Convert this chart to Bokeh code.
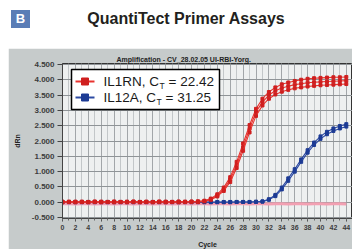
from bokeh.plotting import figure
from bokeh.models import Range1d, SingleIntervalTicker, FixedTicker, NumeralTickFormatter, Div, Spacer
from bokeh.layouts import column, row
from bokeh.core.properties import value
from bokeh.embed import file_html
from bokeh.resources import INLINE

# ---------------- data ----------------
cycles = list(range(0, 45))

il1rn_a = [0.02, 0.02, 0.01, 0.02, 0.01, 0.02, 0.02, 0.01, 0.02, 0.01, 0.02,
           0.02, 0.01, 0.02, 0.01, 0.02, 0.02, 0.01, 0.02, 0.02, 0.02, 0.03,
           0.05, 0.12, 0.26, 0.48, 0.82, 1.32, 1.92, 2.52, 3.05, 3.38, 3.60,
           3.75, 3.85, 3.91, 3.96, 4.00, 4.03, 4.05, 4.06, 4.07, 4.08, 4.08, 4.09]
il1rn_b = [0.01, 0.01, 0.02, 0.01, 0.01, 0.02, 0.01, 0.01, 0.02, 0.01, 0.01,
           0.02, 0.01, 0.01, 0.01, 0.02, 0.01, 0.01, 0.02, 0.01, 0.02, 0.02,
           0.04, 0.10, 0.22, 0.42, 0.74, 1.22, 1.80, 2.40, 2.95, 3.27, 3.50,
           3.64, 3.73, 3.79, 3.84, 3.87, 3.90, 3.92, 3.93, 3.94, 3.95, 3.96, 3.97]
il1rn_c = [0.00, 0.01, 0.00, 0.01, 0.00, 0.01, 0.00, 0.01, 0.00, 0.01, 0.00,
           0.01, 0.00, 0.01, 0.00, 0.01, 0.00, 0.01, 0.00, 0.01, 0.01, 0.01,
           0.03, 0.08, 0.19, 0.37, 0.66, 1.12, 1.68, 2.28, 2.82, 3.16, 3.38,
           3.52, 3.61, 3.67, 3.72, 3.75, 3.78, 3.80, 3.82, 3.83, 3.84, 3.85, 3.86]
il12a_a = [0.01, 0.00, 0.01, 0.00, 0.01, 0.00, 0.01, 0.00, 0.01, 0.00, 0.01,
           0.00, 0.01, 0.00, 0.01, 0.00, 0.01, 0.00, 0.01, 0.00, 0.01, 0.00,
           0.01, 0.00, 0.01, 0.00, 0.01, 0.01, 0.01, 0.01, 0.02, 0.03, 0.10,
           0.24, 0.48, 0.78, 1.08, 1.40, 1.70, 1.95, 2.15, 2.30, 2.41, 2.49, 2.55]
il12a_b = [0.00, 0.01, 0.00, 0.01, 0.00, 0.01, 0.00, 0.01, 0.00, 0.01, 0.00,
           0.01, 0.00, 0.01, 0.00, 0.01, 0.00, 0.01, 0.00, 0.01, 0.00, 0.01,
           0.00, 0.01, 0.00, 0.01, 0.00, 0.01, 0.01, 0.01, 0.01, 0.02, 0.08,
           0.20, 0.42, 0.70, 1.00, 1.32, 1.62, 1.87, 2.07, 2.22, 2.33, 2.41, 2.47]
ntc = [-0.05, -0.05, -0.06, -0.05, -0.05, -0.06, -0.05, -0.05, -0.06, -0.05,
       -0.05, -0.06, -0.05, -0.05, -0.06, -0.05, -0.05, -0.06, -0.05, -0.05,
       -0.06, -0.05, -0.05, -0.06, -0.05, -0.05, -0.06, -0.05, -0.05, -0.06,
       -0.05, -0.05, -0.06, -0.05, -0.05, -0.06, -0.05, -0.05, -0.06, -0.05,
       -0.05, -0.06, -0.05, -0.05, -0.06]

y_ticks = [-0.5, 0.0, 0.5, 1.0, 1.5, 2.0, 2.5, 3.0, 3.5, 4.0, 4.5]
legend_names = ["IL1RN, C", "IL12A, C"]
legend_ct = ["= 22.42", "= 31.25"]
panel_letter = "B"
header_title = "QuantiTect Primer Assays"
plot_title = "Amplification - CV_28.02.05 UI-RBI-Yorg."

RED_LINE, RED_MARK = "#e8332e", "#cf1f1f"
BLUE_LINE, BLUE_MARK = "#2c4aa3", "#1d3b94"
FONT = "Liberation Sans"

# ---------------- header ----------------
header_html = (
    '<div style="position:relative;width:352px;height:48px;background:#ffffff;'
    'font-family:\'Liberation Sans\',sans-serif;">'
    '<div style="position:absolute;left:11px;top:10px;width:19px;height:18px;'
    'background:#5a7db6;color:#ffffff;font-weight:bold;font-size:13px;'
    'line-height:18px;text-align:center;">' + panel_letter + '</div>'
    '<div style="position:absolute;left:66px;top:9px;width:240px;'
    'text-align:center;font-weight:bold;font-size:16px;line-height:20px;'
    'color:#231f20;white-space:nowrap;">' + header_title + '</div></div>'
)
h = Div(text=header_html, width=352, height=48, margin=0)

# ---------------- main plot ----------------
X0, X1 = 0.0, 44.96
Y0, Y1 = -0.53, 4.53
FW, FH = 290, 155
FL, FT = 62, 63  # frame left/top on page (for legend layout)

p = figure(frame_width=FW, frame_height=FH, x_range=Range1d(X0, X1), y_range=Range1d(Y0, Y1),
           toolbar_location=None, output_backend="svg",
           min_border_left=54, min_border_right=0, min_border_top=15,
           min_border_bottom=31, background_fill_color="#eef0f0",
           border_fill_color="#c6cbcb", outline_line_color="#333333")

p.title.text = plot_title
p.title.text_font = FONT
p.title.text_font_size = "7px"
p.title.text_font_style = "bold"
p.title.text_color = "#222222"
p.title.align = "left"
p.title.offset = 54
p.title.standoff = 2

p.xaxis.ticker = SingleIntervalTicker(interval=2, num_minor_ticks=2)
p.yaxis.ticker = FixedTicker(ticks=y_ticks)
p.yaxis.formatter = NumeralTickFormatter(format="0.000")
p.yaxis.axis_label = "dRn"
p.xaxis.axis_label = "Cycle"
for ax in (p.xaxis, p.yaxis):
    ax.major_label_text_font = FONT
    ax.major_label_text_font_style = "bold"
    ax.major_label_text_color = "#3c3c3c"
    ax.axis_label_text_font = FONT
    ax.axis_label_text_font_size = "7px"
    ax.axis_label_text_font_style = "bold"
    ax.axis_label_text_color = "#222222"
    ax.axis_line_color = "#444444"
    ax.major_tick_line_color = "#444444"
    ax.minor_tick_line_color = "#666666"
    ax.major_tick_in = 0
    ax.minor_tick_in = 0
    ax.axis_label_standoff = 8
p.yaxis.major_label_text_font_size = "8px"
p.xaxis.major_label_text_font_size = "7px"
p.yaxis.major_tick_out = 5
p.yaxis.minor_tick_out = 0
p.yaxis.major_label_standoff = 3
p.xaxis.major_tick_out = 3
p.xaxis.minor_tick_out = 2
p.xaxis.major_label_standoff = 3

p.xgrid.grid_line_color = "#a2a6a9"
p.xgrid.minor_grid_line_color = "#c3c7c9"
p.ygrid.grid_line_color = "#8f9497"

p.line(cycles, ntc, color="#f3a0b2", line_width=3)
for rep in (il12a_a, il12a_b):
    p.line(cycles, rep, color=BLUE_LINE, line_width=1.1)
    p.scatter(cycles, rep, marker="square", size=3, color=BLUE_MARK)
for rep in (il1rn_a, il1rn_b, il1rn_c):
    p.line(cycles, rep, color=RED_LINE, line_width=1.1)
    p.scatter(cycles, rep, marker="square", size=3, color=RED_MARK)

# ---------------- legend (layout in page pixels) ----------------
def px2x(px):
    return X0 + (px - FL) * (X1 - X0) / FW

def px2y(py):
    return Y1 - (py - FT) * (Y1 - Y0) / FH

p.quad(left=[px2x(71)], right=[px2x(219)], top=[px2y(69)], bottom=[px2y(109)],
       fill_color="white", line_color="black", line_width=1.5, level="overlay")
rows = [81, 97]
colors = [(RED_LINE, RED_MARK), (BLUE_LINE, BLUE_MARK)]
fs = 13.5
name_em = [4.112, 3.891]
for i in range(2):
    yy = px2y(rows[i])
    lc, mc = colors[i]
    p.segment(x0=[px2x(75)], y0=[yy], x1=[px2x(94)], y1=[yy], color=lc,
              line_width=2, level="overlay")
    p.scatter(x=[px2x(84.5)], y=[yy], marker="square", size=7, color=mc, level="overlay")
    p.text(x=[px2x(103)], y=[yy], text=[legend_names[i]], text_baseline="middle",
           text_font=value(FONT), text_font_size="13.5px", text_color="#1a1a1a",
           level="overlay")
    tx = 103 + name_em[i] * fs + 0.5
    p.text(x=[px2x(tx)], y=[px2y(rows[i] + 4)], text=["T"], text_baseline="middle",
           text_font=value(FONT), text_font_size="8.5px", text_color="#1a1a1a",
           level="overlay")
    p.text(x=[px2x(tx + 9)], y=[yy], text=[legend_ct[i]], text_baseline="middle",
           text_font=value(FONT), text_font_size="13.5px", text_color="#1a1a1a",
           level="overlay")

layout = column(h, row(Spacer(width=8, height=201), p, spacing=0), spacing=0)
open("out.html", "w").write(file_html(layout, INLINE))
